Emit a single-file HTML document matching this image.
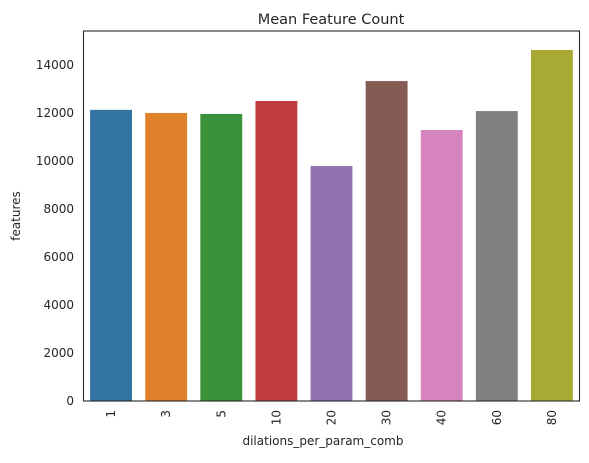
<!DOCTYPE html>
<html><head><meta charset="utf-8"><style>
body{margin:0;background:#fff;}
svg text{font-family:"DejaVu Sans","Liberation Sans",sans-serif;fill:#262626;}
</style></head><body>
<svg id="chart" width="589" height="458" xmlns="http://www.w3.org/2000/svg">
<text x="331" y="24" font-size="14.5" text-anchor="middle">Mean Feature Count</text>
<g id="bars"></g><g id="yticks"></g><g id="xticks"></g>
<rect x="83.5" y="31" width="496" height="370" fill="none" stroke="#262626" stroke-width="1.1"/>
<text x="323" y="445" font-size="12" text-anchor="middle">dilations_per_param_comb</text>
<text transform="translate(20,216) rotate(-90)" font-size="12" text-anchor="middle">features</text>
</svg>
<script>
const categories=["1","3","5","10","20","30","40","60","80"];
const values=[12130,12000,11960,12500,9790,13330,11290,12080,14625];
const yTicks=[0,2000,4000,6000,8000,10000,12000,14000];
const colors=["#3274a1","#e1812c","#3a923a","#c03d3e","#9372b2","#845b53","#d684bd","#7f7f7f","#a9aa35"];
const L=83.5,R=579.5,T=31,B=401,yMax=15416;
const y=v=>B-(v/yMax)*(B-T);
const step=(R-L)/categories.length;
const xc=i=>L+step*(i+0.5);
const NS="http://www.w3.org/2000/svg";
const bars=document.getElementById('bars'),yt=document.getElementById('yticks'),xt=document.getElementById('xticks');
values.forEach((v,i)=>{
 const r=document.createElementNS(NS,'rect');
 r.setAttribute('x',xc(i)-step*0.38);r.setAttribute('width',step*0.76);
 r.setAttribute('y',y(v));r.setAttribute('height',B-y(v));r.setAttribute('fill',colors[i]);
 
 
 bars.appendChild(r);
 const t=document.createElementNS(NS,'text');
 t.setAttribute('transform','translate('+(xc(i)+4)+',410) rotate(-90)');
 t.setAttribute('font-size','12');t.setAttribute('text-anchor','end');t.textContent=categories[i];
 
 
 xt.appendChild(t);
});
yTicks.forEach(v=>{
 const t=document.createElementNS(NS,'text');
 t.setAttribute('x',74);t.setAttribute('y',y(v)+4);t.setAttribute('font-size','12');t.setAttribute('text-anchor','end');
 t.textContent=v;
 
 
 yt.appendChild(t);
});
</script>
</body></html>
